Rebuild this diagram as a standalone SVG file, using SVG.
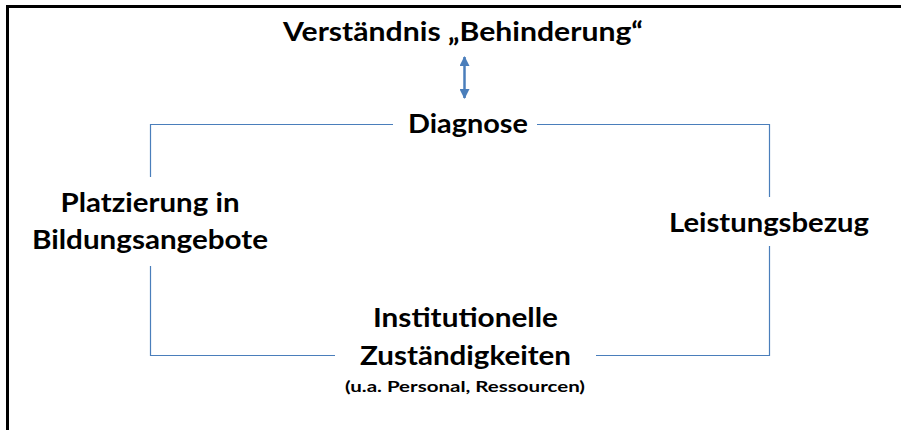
<svg xmlns="http://www.w3.org/2000/svg" width="901" height="430" viewBox="0 0 901 430">
<style>
.t{font-family:Lato,"Open Sans","Liberation Sans",sans-serif;font-weight:bold;fill:#000;text-anchor:middle;font-size:26.5px}
.s{font-size:15.5px}
.ln{fill:none;stroke:#4a7ebb;stroke-width:1.2}
</style>
<defs>
<marker id="ah" viewBox="0 0 10 10" refX="9" refY="5" markerWidth="4" markerHeight="4" orient="auto-start-reverse" markerUnits="strokeWidth">
<path d="M0,0 L10,5 L0,10 z" fill="#4a7ebb"/>
</marker>
</defs>
<rect width="901" height="430" fill="#fff"/>
<path d="M7.5,430 V6.5 H901" fill="none" stroke="#000" stroke-width="3"/>
<g id="connectors">
<path class="ln" d="M393,124.5 H150.5 V177"/>
<path class="ln" d="M150.5,266 V355.5 H335"/>
<path class="ln" d="M537,124.5 H769.5 V197"/>
<path class="ln" d="M769.5,246 V355.5 H596"/>
<line x1="464.5" y1="57" x2="464.5" y2="98" stroke="#4a7ebb" stroke-width="2.5" marker-start="url(#ah)" marker-end="url(#ah)"/>
</g>
<g id="verstaendnis"><text class="t" x="463" y="41" textLength="360" lengthAdjust="spacingAndGlyphs">Verständnis „Behinderung“</text></g>
<g id="diagnose"><text class="t" x="468" y="133" textLength="120" lengthAdjust="spacingAndGlyphs">Diagnose</text></g>
<g id="platzierung">
<text class="t" x="150" y="212" textLength="179" lengthAdjust="spacingAndGlyphs">Platzierung in</text>
<text class="t" x="150" y="249" textLength="236" lengthAdjust="spacingAndGlyphs">Bildungsangebote</text>
</g>
<g id="leistungsbezug"><text class="t" x="769" y="232" textLength="200" lengthAdjust="spacingAndGlyphs">Leistungsbezug</text></g>
<g id="institutionelle">
<text class="t" x="465.5" y="327" textLength="185" lengthAdjust="spacingAndGlyphs">Institutionelle</text>
<text class="t" x="465.5" y="365" textLength="211" lengthAdjust="spacingAndGlyphs">Zuständigkeiten</text>
<text class="t s" x="465" y="392" textLength="240" lengthAdjust="spacingAndGlyphs">(u.a. Personal, Ressourcen)</text>
</g>
</svg>
